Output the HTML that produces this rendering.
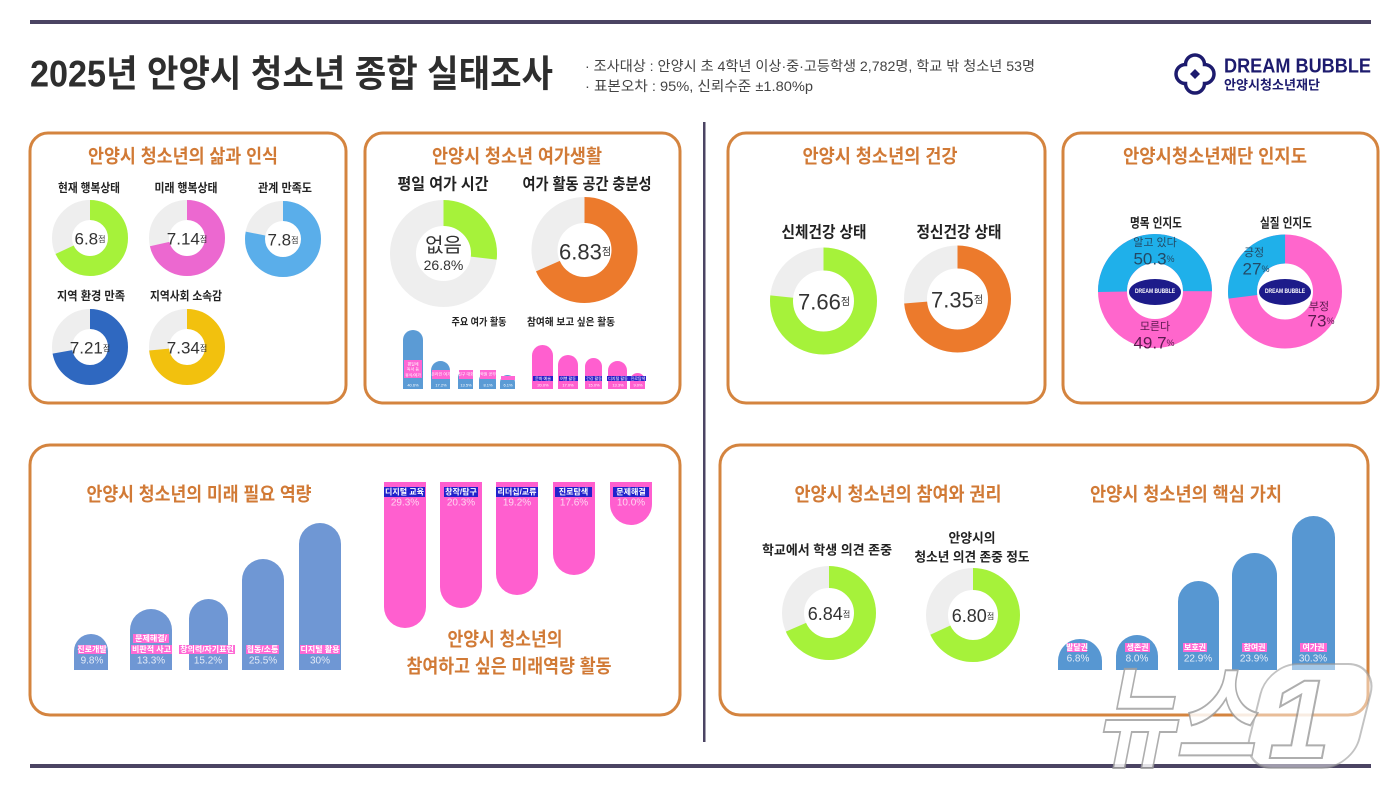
<!DOCTYPE html>
<html><head><meta charset="utf-8"><style>
html,body{margin:0;padding:0;background:#fff;}
svg{display:block;font-family:"Liberation Sans","Noto Sans CJK KR",sans-serif;}
.t{font-weight:700;fill:#d17a36;}
.k{font-weight:700;fill:#222;}
.v{fill:#333;}
.lb{fill:#fff;font-size:8px;font-weight:700;}
.pc{fill:#e4ecf8;font-size:10px;}
</style></head><body>
<svg width="1400" height="788" viewBox="0 0 1400 788" xmlns="http://www.w3.org/2000/svg">
<rect width="1400" height="788" fill="#fff"/>
<!-- header lines -->
<rect x="30" y="20" width="1341" height="4" fill="#4b4463"/>
<rect x="30" y="764" width="1341" height="4" fill="#4b4463"/>
<rect x="703" y="122" width="2.5" height="620" fill="#4b4463"/>

<!-- title -->
<text x="30" y="74" dominant-baseline="central" font-size="37" font-weight="700" fill="#2e2e2e" textLength="523" lengthAdjust="spacingAndGlyphs">2025년 안양시 청소년 종합 실태조사</text>
<text x="585" y="66" dominant-baseline="central" font-size="14" fill="#444" textLength="450" lengthAdjust="spacingAndGlyphs">· 조사대상 : 안양시 초 4학년 이상·중·고등학생 2,782명, 학교 밖 청소년 53명</text>
<text x="585" y="86" dominant-baseline="central" font-size="14" fill="#444" textLength="228" lengthAdjust="spacingAndGlyphs">· 표본오차 : 95%, 신뢰수준 ±1.80%p</text>

<!-- logo -->
<g transform="translate(1195,74)">
<path d="M-9.5,-9.5 A9.5,9.5 0 0 1 9.5,-9.5 A9.5,9.5 0 0 1 9.5,9.5 A9.5,9.5 0 0 1 -9.5,9.5 A9.5,9.5 0 0 1 -9.5,-9.5 Z" fill="none" stroke="#1d1b6e" stroke-width="3.5"/>
<path d="M0,-5 L5,0 L0,5 L-5,0 Z" fill="#1d1b6e"/>
</g>
<text x="1224" y="66.5" dominant-baseline="central" font-size="20" font-weight="700" fill="#1d1b6e" textLength="147" lengthAdjust="spacingAndGlyphs">DREAM BUBBLE</text>
<text x="1224" y="85" dominant-baseline="central" font-size="13" font-weight="700" fill="#1d1b6e" textLength="96" lengthAdjust="spacingAndGlyphs">안양시청소년재단</text>

<!-- panels -->
<g fill="#fff" stroke="#d4843f" stroke-width="3">
<rect x="30" y="133" width="316" height="270" rx="18"/>
<rect x="365" y="133" width="315" height="270" rx="18"/>
<rect x="728" y="133" width="317" height="270" rx="18"/>
<rect x="1063" y="133" width="315" height="270" rx="18"/>
<rect x="30" y="445" width="650" height="270" rx="20"/>
<rect x="720" y="445" width="648" height="270" rx="20"/>
</g>

<!-- panel titles -->
<g font-size="19" text-anchor="middle" dominant-baseline="central" class="t">
<text x="183" y="157" class="t" textLength="190" lengthAdjust="spacingAndGlyphs">안양시 청소년의 삶과 인식</text>
<text x="517" y="157" class="t" textLength="170" lengthAdjust="spacingAndGlyphs">안양시 청소년 여가생활</text>
<text x="880" y="157" class="t" textLength="155" lengthAdjust="spacingAndGlyphs">안양시 청소년의 건강</text>
<text x="1215" y="157" class="t" textLength="184" lengthAdjust="spacingAndGlyphs">안양시청소년재단 인지도</text>
<text x="199" y="495" class="t" textLength="225" lengthAdjust="spacingAndGlyphs">안양시 청소년의 미래 필요 역량</text>
<text x="505" y="640" class="t" textLength="115" lengthAdjust="spacingAndGlyphs">안양시 청소년의</text>
<text x="509" y="667" class="t" textLength="205" lengthAdjust="spacingAndGlyphs">참여하고 싶은 미래역량 활동</text>
<text x="898" y="495" class="t" textLength="207" lengthAdjust="spacingAndGlyphs">안양시 청소년의 참여와 권리</text>
<text x="1186" y="495" class="t" textLength="192" lengthAdjust="spacingAndGlyphs">안양시 청소년의 핵심 가치</text>
</g>

<!-- Panel 1 donuts -->
<g text-anchor="middle" dominant-baseline="central">
<text x="89" y="188" font-size="12" class="k" textLength="62" lengthAdjust="spacingAndGlyphs">현재 행복상태</text>
<text x="186" y="188" font-size="12" class="k" textLength="63" lengthAdjust="spacingAndGlyphs">미래 행복상태</text>
<text x="285" y="188" font-size="12" class="k" textLength="54" lengthAdjust="spacingAndGlyphs">관계 만족도</text>
<text x="91" y="296" font-size="12" class="k" textLength="68" lengthAdjust="spacingAndGlyphs">지역 환경 만족</text>
<text x="186" y="296" font-size="12" class="k" textLength="72" lengthAdjust="spacingAndGlyphs">지역사회 소속감</text>
</g>
<g fill="none" stroke-width="20">
<circle cx="90" cy="238" r="28" stroke="#eeeeee"/>
<circle cx="90" cy="238" r="28" stroke="#a6f23a" stroke-dasharray="119.6 300" transform="rotate(-90 90 238)"/>
<circle cx="187" cy="238" r="28" stroke="#eeeeee"/>
<circle cx="187" cy="238" r="28" stroke="#ec68d0" stroke-dasharray="125.6 300" transform="rotate(-90 187 238)"/>
<circle cx="283" cy="239" r="28" stroke="#eeeeee"/>
<circle cx="283" cy="239" r="28" stroke="#5aaeea" stroke-dasharray="137.2 300" transform="rotate(-90 283 239)"/>
<circle cx="90" cy="347" r="28" stroke="#eeeeee"/>
<circle cx="90" cy="347" r="28" stroke="#2f68c0" stroke-dasharray="126.8 300" transform="rotate(-90 90 347)"/>
<circle cx="187" cy="347" r="28" stroke="#eeeeee"/>
<circle cx="187" cy="347" r="28" stroke="#f2c10e" stroke-dasharray="129.1 300" transform="rotate(-90 187 347)"/>
</g>
<g text-anchor="middle" dominant-baseline="central" class="v" font-size="17">
<text x="90" y="239">6.8<tspan font-size="8">점</tspan></text>
<text x="187" y="239">7.14<tspan font-size="8">점</tspan></text>
<text x="283" y="240">7.8<tspan font-size="8">점</tspan></text>
<text x="90" y="348">7.21<tspan font-size="8">점</tspan></text>
<text x="187" y="348">7.34<tspan font-size="8">점</tspan></text>
</g>

<!-- Panel 2 -->
<g text-anchor="middle" dominant-baseline="central">
<text x="443" y="185" font-size="16" class="k" textLength="91" lengthAdjust="spacingAndGlyphs">평일 여가 시간</text>
<text x="587" y="185" font-size="16" class="k" textLength="129" lengthAdjust="spacingAndGlyphs">여가 활동 공간 충분성</text>
<text x="479" y="323" font-size="10" class="k" textLength="55" lengthAdjust="spacingAndGlyphs">주요 여가 활동</text>
<text x="571" y="323" font-size="10" class="k" textLength="88" lengthAdjust="spacingAndGlyphs">참여해 보고 싶은 활동</text>
</g>
<g fill="none" stroke-width="26">
<circle cx="443.5" cy="253.5" r="40.5" stroke="#eeeeee"/>
<circle cx="443.5" cy="253.5" r="40.5" stroke="#a6f23a" stroke-dasharray="68.2 400" transform="rotate(-90 443.5 253.5)"/>
<circle cx="584.5" cy="250" r="40" stroke="#eeeeee"/>
<circle cx="584.5" cy="250" r="40" stroke="#ec7a2c" stroke-dasharray="171.6 400" transform="rotate(-90 584.5 250)"/>
</g>
<g text-anchor="middle" dominant-baseline="central" class="v">
<text x="443.5" y="246" font-size="20">없음</text>
<text x="443.5" y="265" font-size="14">26.8%</text>
<text x="585" y="252" font-size="22">6.83<tspan font-size="10">점</tspan></text>
</g>
<!-- small bars -->
<g fill="#5b9bd5">
<path d="M403,389 V340 A10,10 0 0 1 423,340 V389 Z"/>
<path d="M431,389 V370.5 A9.5,9.5 0 0 1 450,370.5 V389 Z"/>
<path d="M458,389 V377.5 A7.5,7.5 0 0 1 473,377.5 V389 Z"/>
<path d="M479,389 V380.5 A8.5,8.5 0 0 1 496,380.5 V389 Z"/>
<path d="M500,389 V382.5 A7.5,7.5 0 0 1 515,382.5 V389 Z"/>
</g>
<g fill="#ff5fcf">
<path d="M532,389 V355.5 A10.5,10.5 0 0 1 553,355.5 V389 Z"/>
<path d="M558,389 V365 A10,10 0 0 1 578,365 V389 Z"/>
<path d="M585,389 V366.5 A8.5,8.5 0 0 1 602,366.5 V389 Z"/>
<path d="M608,389 V370.5 A9.5,9.5 0 0 1 627,370.5 V389 Z"/>
<path d="M630,389 V380.5 A7.5,7.5 0 0 1 645,380.5 V389 Z"/>
</g>
<g fill="#ff66d4">
<rect x="404" y="360" width="18" height="18"/>
<rect x="432" y="370" width="18" height="9"/>
<rect x="459" y="370" width="14" height="9"/>
<rect x="480" y="370" width="16" height="9"/>
<rect x="501" y="376" width="14" height="4"/>
</g>
<g fill="#2a20c8">
<rect x="533" y="376" width="20" height="5"/>
<rect x="559" y="376" width="19" height="5"/>
<rect x="585" y="376" width="17" height="5"/>
<rect x="607" y="376" width="22" height="5"/>
<rect x="629" y="376" width="17" height="5"/>
</g>
<g font-size="4" fill="#fff" text-anchor="middle" dominant-baseline="central">
<text x="413" y="364">평일에</text><text x="413" y="369">독서 등</text><text x="413" y="375">휴식/여가</text>
<text x="413" y="385">40.6%</text>
<text x="441" y="374">온라인 여가</text><text x="441" y="385">17.2%</text>
<text x="466" y="374">친구 대화</text><text x="466" y="385">13.5%</text>
<text x="488" y="374">학원 공부</text><text x="488" y="385">8.1%</text>
<text x="508" y="385">6.1%</text>
<text x="543" y="378.5">문화 예술</text><text x="543" y="385">20.0%</text>
<text x="568" y="378.5">여행 활동</text><text x="568" y="385">17.0%</text>
<text x="594" y="378.5">건강 활동</text><text x="594" y="385">15.0%</text>
<text x="618" y="378.5">디지털 활동</text><text x="618" y="385">13.3%</text>
<text x="638" y="378.5">진로탐색</text><text x="638" y="385">9.0%</text>
</g>

<!-- Panel 3 -->
<g text-anchor="middle" dominant-baseline="central">
<text x="824" y="233" font-size="16" class="k" textLength="85" lengthAdjust="spacingAndGlyphs">신체건강 상태</text>
<text x="959" y="233" font-size="16" class="k" textLength="85" lengthAdjust="spacingAndGlyphs">정신건강 상태</text>
</g>
<g fill="none" stroke-width="23">
<circle cx="823.5" cy="301" r="42" stroke="#eeeeee"/>
<circle cx="823.5" cy="301" r="42" stroke="#a6f23a" stroke-dasharray="202.1 400" transform="rotate(-90 823.5 301)"/>
<circle cx="957.5" cy="299" r="42" stroke="#eeeeee"/>
<circle cx="957.5" cy="299" r="42" stroke="#ec7a2c" stroke-dasharray="194 400" transform="rotate(-90 957.5 299)"/>
</g>
<g text-anchor="middle" dominant-baseline="central" class="v">
<text x="824" y="302" font-size="22">7.66<tspan font-size="10">점</tspan></text>
<text x="957" y="300" font-size="22">7.35<tspan font-size="10">점</tspan></text>
</g>

<!-- Panel 4 -->
<g text-anchor="middle" dominant-baseline="central">
<text x="1156" y="223" font-size="13" class="k" textLength="52" lengthAdjust="spacingAndGlyphs">명목 인지도</text>
<text x="1286" y="223" font-size="13" class="k" textLength="52" lengthAdjust="spacingAndGlyphs">실질 인지도</text>
</g>
<g fill="none" stroke-width="29">
<circle cx="1155" cy="291" r="42.5" stroke="#ff66cc"/>
<circle cx="1155" cy="291" r="42.5" stroke="#1fb0ea" stroke-dasharray="134.3 400" transform="rotate(179 1155 291)"/>
<circle cx="1285" cy="291.5" r="42.5" stroke="#ff66cc"/>
<circle cx="1285" cy="291.5" r="42.5" stroke="#1fb0ea" stroke-dasharray="72.1 400" transform="rotate(-187.2 1285 291.5)"/>
</g>
<!-- badges -->
<g>
<ellipse cx="1155" cy="292" rx="26" ry="13" fill="#1d1b8a"/>
<ellipse cx="1285" cy="292" rx="26" ry="13" fill="#1d1b8a"/>
<g font-size="6" font-weight="700" fill="#fff" text-anchor="middle" dominant-baseline="central">
<text x="1155" y="292" textLength="40" lengthAdjust="spacingAndGlyphs">DREAM BUBBLE</text>
<text x="1285" y="292" textLength="40" lengthAdjust="spacingAndGlyphs">DREAM BUBBLE</text>
</g>
</g>
<g text-anchor="middle" dominant-baseline="central">
<text x="1155" y="243" font-size="11" fill="#234a66">알고 있다</text>
<text x="1154" y="259" font-size="17" fill="#234a66">50.3<tspan font-size="9">%</tspan></text>
<text x="1155" y="327" font-size="11" fill="#5a1a4e">모른다</text>
<text x="1154" y="343" font-size="17" fill="#5a1a4e">49.7<tspan font-size="9">%</tspan></text>
<text x="1254" y="253" font-size="11" fill="#234a66">긍정</text>
<text x="1256" y="269" font-size="17" fill="#234a66">27<tspan font-size="9">%</tspan></text>
<text x="1319" y="307" font-size="11" fill="#5a1a4e">부정</text>
<text x="1321" y="321" font-size="17" fill="#5a1a4e">73<tspan font-size="9">%</tspan></text>
</g>

<!-- Future competencies bars -->
<g fill="#6f97d4">
<path d="M74,670 V651 A17,17 0 0 1 108,651 V670 Z"/>
<path d="M130,670 V630 A21,21 0 0 1 172,630 V670 Z"/>
<path d="M189,670 V618.5 A19.5,19.5 0 0 1 228,618.5 V670 Z"/>
<path d="M242,670 V580 A21,21 0 0 1 284,580 V670 Z"/>
<path d="M299,670 V544 A21,21 0 0 1 341,544 V670 Z"/>
</g>
<g fill="#ff6ad5">
<rect x="78" y="645" width="28" height="9"/>
<rect x="133" y="634" width="36" height="9"/>
<rect x="131" y="645" width="41" height="9"/>
<rect x="179" y="645" width="56" height="9"/>
<rect x="246" y="645" width="33" height="9"/>
<rect x="300" y="645" width="40" height="9"/>
</g>
<g text-anchor="middle" dominant-baseline="central">
<text x="92" y="649.5" class="lb">진로개발</text>
<text x="151" y="638.5" class="lb">문제해결/</text>
<text x="151.5" y="649.5" class="lb">비판적 사고</text>
<text x="207" y="649.5" class="lb">창의력/자기표현</text>
<text x="262.5" y="649.5" class="lb">협동/소통</text>
<text x="320" y="649.5" class="lb">디지털 활용</text>
<text x="92" y="661" class="pc">9.8%</text>
<text x="151" y="661" class="pc">13.3%</text>
<text x="208" y="661" class="pc">15.2%</text>
<text x="263" y="661" class="pc">25.5%</text>
<text x="320" y="661" class="pc">30%</text>
</g>

<!-- Pink hanging bars -->
<g fill="#ff5fcf">
<path d="M384,482 H426 V607 A21,21 0 0 1 384,607 Z"/>
<path d="M440,482 H482 V587 A21,21 0 0 1 440,587 Z"/>
<path d="M496,482 H538 V574 A21,21 0 0 1 496,574 Z"/>
<path d="M553,482 H595 V554 A21,21 0 0 1 553,554 Z"/>
<path d="M610,482 H652 V504 A21,21 0 0 1 610,504 Z"/>
</g>
<g fill="#2222cc">
<rect x="384" y="487" width="41" height="10"/>
<rect x="444" y="487" width="34" height="10"/>
<rect x="496" y="487" width="42" height="10"/>
<rect x="555" y="487" width="37" height="10"/>
<rect x="613" y="487" width="36" height="10"/>
</g>
<g text-anchor="middle" dominant-baseline="central">
<text x="404.5" y="492" class="lb">디지털 교육</text>
<text x="461" y="492" class="lb">창작/탐구</text>
<text x="517" y="492" class="lb">리더십/교류</text>
<text x="573.5" y="492" class="lb">진로탐색</text>
<text x="631" y="492" class="lb">문제해결</text>
<g font-size="10" fill="#ffd6f2">
<text x="405" y="503">29.3%</text>
<text x="461" y="503">20.3%</text>
<text x="517" y="503">19.2%</text>
<text x="574" y="503">17.6%</text>
<text x="631" y="503">10.0%</text>
</g>
</g>

<!-- Participation donuts -->
<g text-anchor="middle" dominant-baseline="central">
<text x="827" y="550" font-size="13" class="k" textLength="130" lengthAdjust="spacingAndGlyphs">학교에서 학생 의견 존중</text>
<text x="972" y="538" font-size="13" class="k" textLength="47" lengthAdjust="spacingAndGlyphs">안양시의</text>
<text x="972" y="557" font-size="13" class="k" textLength="115" lengthAdjust="spacingAndGlyphs">청소년 의견 존중 정도</text>
</g>
<g fill="none" stroke-width="22">
<circle cx="829" cy="613" r="36" stroke="#eeeeee"/>
<circle cx="829" cy="613" r="36" stroke="#a6f23a" stroke-dasharray="154.7 400" transform="rotate(-90 829 613)"/>
<circle cx="973" cy="615" r="36" stroke="#eeeeee"/>
<circle cx="973" cy="615" r="36" stroke="#a6f23a" stroke-dasharray="153.8 400" transform="rotate(-90 973 615)"/>
</g>
<g text-anchor="middle" dominant-baseline="central" class="v">
<text x="829" y="614" font-size="18">6.84<tspan font-size="8">점</tspan></text>
<text x="973" y="616" font-size="18">6.80<tspan font-size="8">점</tspan></text>
</g>

<!-- Core values bars -->
<g fill="#5797d2">
<path d="M1058,670 V661 A22,22 0 0 1 1102,661 V670 Z"/>
<path d="M1116,670 V656 A21,21 0 0 1 1158,656 V670 Z"/>
<path d="M1178,670 V601.5 A20.5,20.5 0 0 1 1219,601.5 V670 Z"/>
<path d="M1232,670 V575.5 A22.5,22.5 0 0 1 1277,575.5 V670 Z"/>
<path d="M1292,670 V537.5 A21.5,21.5 0 0 1 1335,537.5 V670 Z"/>
</g>
<g fill="#ff6ad5">
<rect x="1067" y="643" width="20" height="9"/>
<rect x="1125" y="643" width="25" height="9"/>
<rect x="1183" y="643" width="24" height="9"/>
<rect x="1242" y="643" width="25" height="9"/>
<rect x="1300" y="643" width="27" height="9"/>
</g>
<g text-anchor="middle" dominant-baseline="central">
<text x="1077" y="647.5" class="lb">발달권</text>
<text x="1137.5" y="647.5" class="lb">생존권</text>
<text x="1195" y="647.5" class="lb">보호권</text>
<text x="1254.5" y="647.5" class="lb">참여권</text>
<text x="1313.5" y="647.5" class="lb">여가권</text>
<text x="1078" y="659" class="pc">6.8%</text>
<text x="1137" y="659" class="pc">8.0%</text>
<text x="1198" y="659" class="pc">22.9%</text>
<text x="1254" y="659" class="pc">23.9%</text>
<text x="1313" y="659" class="pc">30.3%</text>
</g>

<!-- News1 watermark -->
<g opacity="0.85">
<g transform="translate(1300,716) skewX(-14)">
<rect x="-45" y="-52" width="110" height="104" rx="30" fill="#fff" fill-opacity="0.55" stroke="#9a9a9a" stroke-width="2" stroke-opacity="0.7"/>
</g>
<text x="1095" y="758" font-size="112" font-weight="700" font-style="italic" fill="#fff" stroke="#a0a0a0" stroke-width="2" textLength="160" lengthAdjust="spacingAndGlyphs" font-family="'Noto Sans CJK KR',sans-serif">뉴스</text>
<text x="1268" y="758" font-size="112" font-weight="700" font-style="italic" fill="#fff" stroke="#a0a0a0" stroke-width="2" font-family="'Liberation Sans',sans-serif">1</text>
</g>
</svg>
</body></html>
